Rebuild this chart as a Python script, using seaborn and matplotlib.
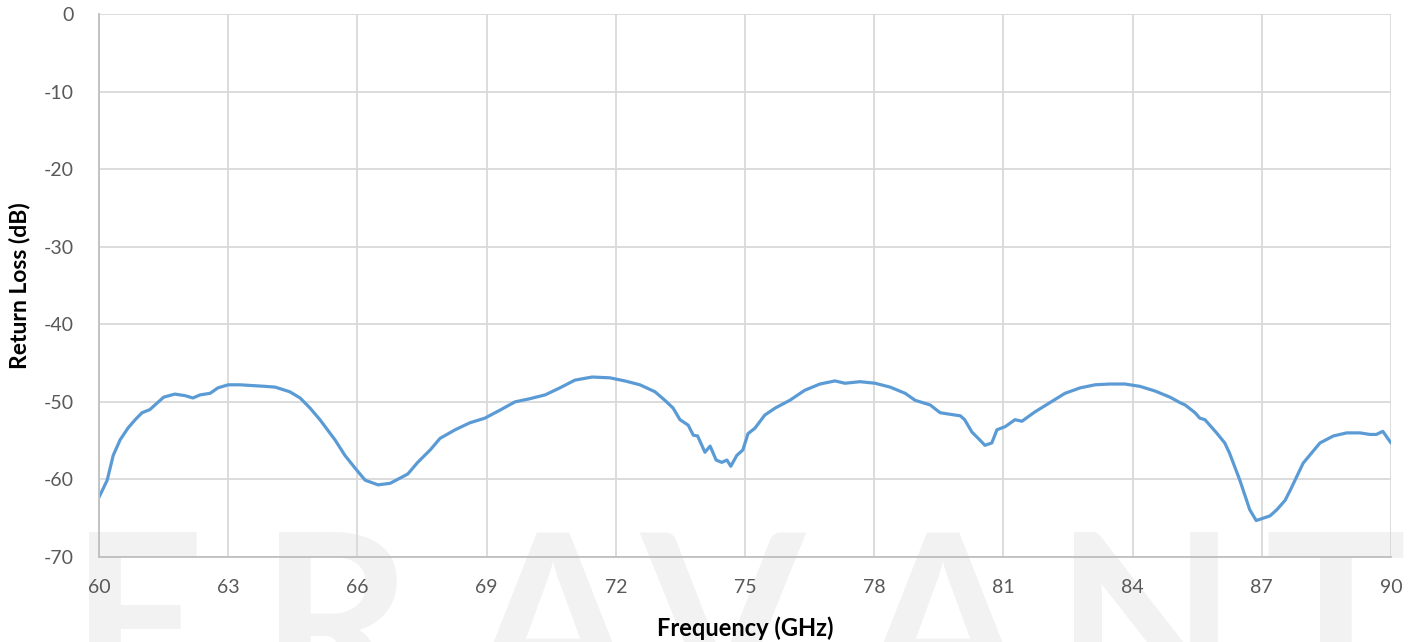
import numpy as np
import pandas as pd
import matplotlib
matplotlib.use("Agg")
import matplotlib.pyplot as plt
from matplotlib.ticker import MultipleLocator
import seaborn as sns

# values
freq = [60.0, 60.19, 60.33, 60.49, 60.67, 60.84, 61.0, 61.18, 61.42, 61.5, 61.76, 62.0,
        62.18, 62.35, 62.58, 62.76, 63.0, 63.27, 63.85, 64.09, 64.43, 64.67, 64.9, 65.13,
        65.48, 65.71, 65.94, 66.18, 66.48, 66.76, 67.0, 67.17, 67.4, 67.69, 67.92, 68.27,
        68.61, 68.96, 69.3, 69.66, 70.0, 70.36, 70.7, 71.05, 71.45, 71.86, 72.21, 72.56,
        72.91, 73.14, 73.33, 73.49, 73.68, 73.8, 73.9, 74.07, 74.19, 74.33, 74.46, 74.58,
        74.67, 74.81, 74.95, 75.07, 75.23, 75.46, 75.7, 76.04, 76.39, 76.74, 77.09, 77.32,
        77.67, 78.02, 78.37, 78.72, 78.95, 79.3, 79.53, 79.76, 80.0, 80.1, 80.27, 80.45,
        80.57, 80.73, 80.85, 81.04, 81.27, 81.43, 81.73, 82.08, 82.43, 82.78, 83.13, 83.47,
        83.82, 84.17, 84.52, 84.87, 85.1, 85.22, 85.45, 85.56, 85.68, 85.95, 86.14, 86.25,
        86.49, 86.72, 86.87, 87.03, 87.19, 87.35, 87.54, 87.66, 87.96, 88.08, 88.35, 88.66,
        88.97, 89.28, 89.51, 89.66, 89.81, 90.0]
rl = [-62.3, -60.1, -56.9, -54.9, -53.4, -52.3, -51.4, -51.0, -49.8, -49.4, -49.0, -49.2,
      -49.5, -49.1, -48.9, -48.2, -47.8, -47.8, -48.0, -48.1, -48.7, -49.5, -50.8, -52.3,
      -54.9, -56.9, -58.5, -60.1, -60.7, -60.5, -59.8, -59.3, -57.8, -56.2, -54.7, -53.6,
      -52.7, -52.1, -51.1, -50.0, -49.6, -49.1, -48.2, -47.2, -46.8, -46.9, -47.3, -47.8,
      -48.7, -49.8, -50.8, -52.3, -53.0, -54.3, -54.4, -56.5, -55.7, -57.5, -57.8, -57.5,
      -58.3, -56.9, -56.2, -54.1, -53.4, -51.7, -50.8, -49.8, -48.5, -47.7, -47.3, -47.6,
      -47.4, -47.6, -48.1, -48.9, -49.8, -50.4, -51.4, -51.6, -51.8, -52.3, -53.9, -54.9,
      -55.6, -55.3, -53.6, -53.2, -52.3, -52.5, -51.3, -50.1, -48.9, -48.2, -47.8, -47.7,
      -47.7, -48.0, -48.6, -49.4, -50.1, -50.4, -51.4, -52.1, -52.3, -54.0, -55.3, -56.6,
      -60.1, -63.9, -65.3, -65.0, -64.7, -63.9, -62.7, -61.4, -57.9, -57.1, -55.3, -54.4,
      -54.0, -54.0, -54.2, -54.2, -53.8, -55.3]

watermark_letters = ["E", "R", "A", "V", "A", "N", "T"]
watermark_x = [70, 260, 470, 640, 860, 1055, 1265]

df = pd.DataFrame({"Frequency (GHz)": freq, "Return Loss (dB)": rl})

sns.set_style("white")
plt.rcParams["font.family"] = ["Lato", "DejaVu Sans"]
plt.rcParams["axes.unicode_minus"] = False

fig = plt.figure(figsize=(14.18, 6.42), dpi=100)
ax = fig.add_axes([99 / 1418, 1 - 557 / 642, (1391 - 99) / 1418, (557 - 14) / 642])
ax.set_facecolor("none")
ax.set_zorder(1)

# watermark behind the plot
for letter, px in zip(watermark_letters, watermark_x):
    fig.text(px / 1418, 1 - 528 / 642, letter, fontsize=170, color="#f2f2f2",
             ha="left", va="top", zorder=-5, fontweight="bold")

sns.lineplot(data=df, x="Frequency (GHz)", y="Return Loss (dB)", ax=ax,
             color="#5b9bd5", linewidth=2.3)

ax.set_xlim(60, 90)
ax.set_ylim(-70, 0)
ax.xaxis.set_major_locator(MultipleLocator(3))
ax.xaxis.set_minor_locator(MultipleLocator(0.6))
ax.yaxis.set_major_locator(MultipleLocator(10))
ax.yaxis.set_minor_locator(MultipleLocator(2))
ax.grid(True, which="major", color="#d9d9d9", linewidth=1.3)

for s in ["top", "right"]:
    ax.spines[s].set_visible(False)
for s in ["left", "bottom"]:
    ax.spines[s].set_color("#bfbfbf")
    ax.spines[s].set_linewidth(1.3)

ax.tick_params(axis="both", which="both", direction="in", color="#bfbfbf", width=1.0)
ax.tick_params(axis="both", which="major", length=0, labelsize=14, labelcolor="#595959")
ax.tick_params(axis="x", which="minor", length=5)
ax.tick_params(axis="y", which="minor", length=5)
ax.tick_params(axis="x", which="major", pad=16)
ax.tick_params(axis="y", which="major", pad=18)

ax.set_xlabel("Frequency (GHz)", fontsize=17, fontweight="bold", color="black", va="center")
ax.set_ylabel("Return Loss (dB)", fontsize=16.5, fontweight="bold", color="black", va="center")
ax.xaxis.set_label_coords(0.5, (557 - 628) / 543)
ax.yaxis.set_label_coords((20 - 99) / 1292, 0.5)

fig.savefig("out.png", dpi=100)
